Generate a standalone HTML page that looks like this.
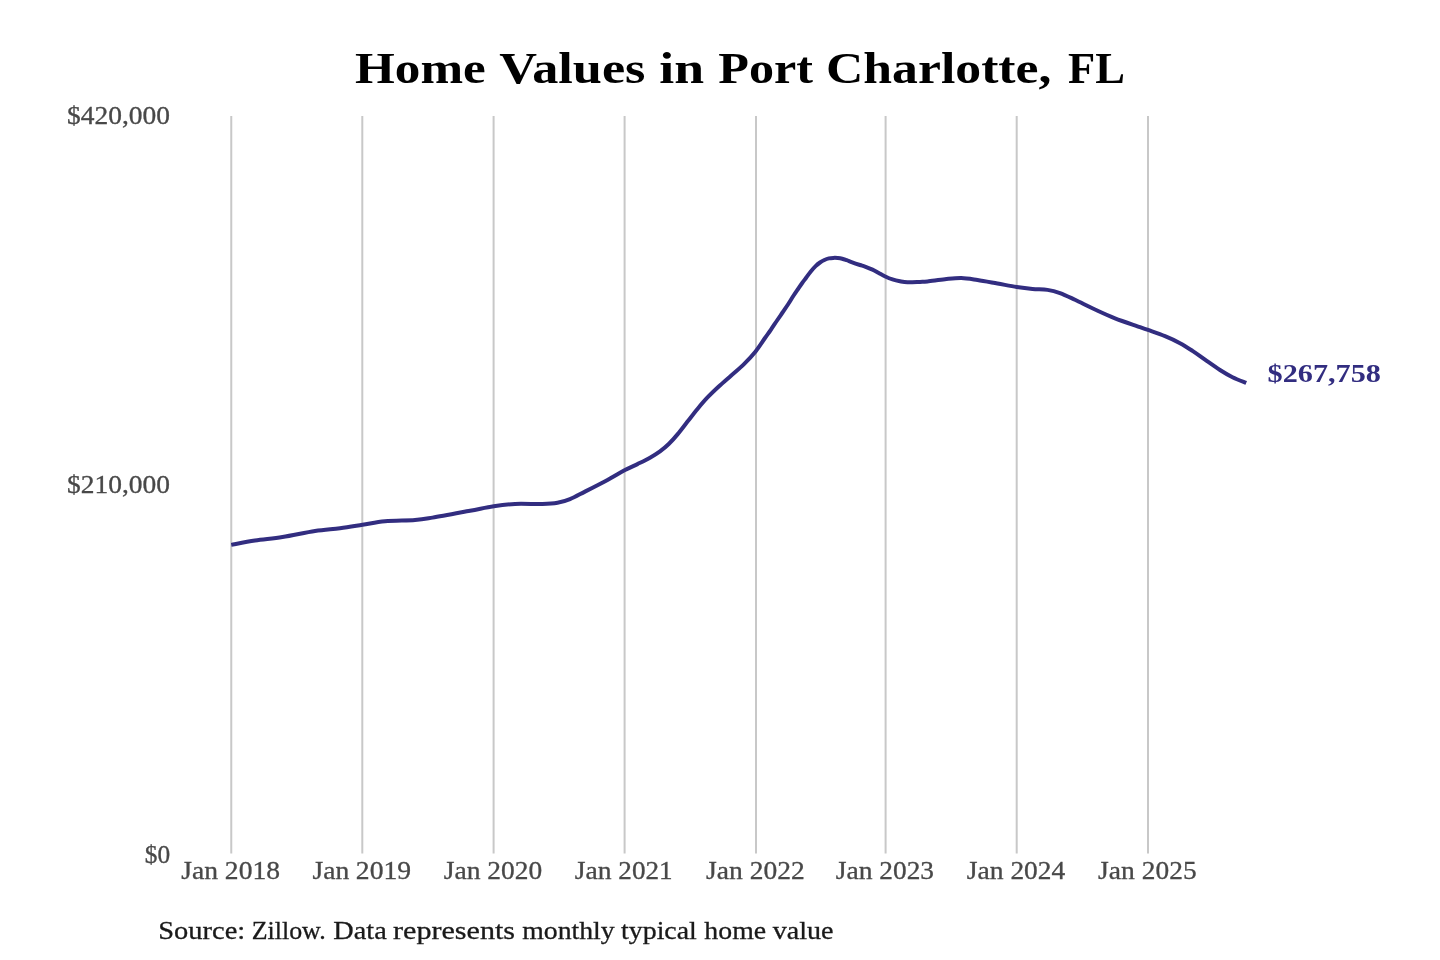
<!DOCTYPE html>
<html lang="en">
<head>
<meta charset="utf-8">
<title>Home Values in Port Charlotte, FL</title>
<style>
html,body{margin:0;padding:0;background:#fff;}
body{width:1440px;height:960px;overflow:hidden;font-family:"Liberation Serif", serif;}
svg{display:block;will-change:transform;}
text{font-family:"Liberation Serif", serif;white-space:pre;}
.title{font-weight:bold;font-size:44.8px;fill:#000000;}
.tick{font-size:24.4px;fill:#484848;stroke:#484848;stroke-width:0.3px;}
.src{font-size:25.0px;fill:#1a1a1a;stroke:#1a1a1a;stroke-width:0.3px;}
.val{font-weight:bold;font-size:24.4px;fill:#322d80;}
.grid line{stroke:#c8c8c8;stroke-width:2;}
</style>
</head>
<body>
<svg width="1440" height="960" viewBox="0 0 1440 960">
<rect width="1440" height="960" fill="#ffffff"/>
<text class="title" y="82.7"><tspan x="354.98" textLength="130.80" lengthAdjust="spacingAndGlyphs">Home</tspan> <tspan x="499.19" textLength="146.26" lengthAdjust="spacingAndGlyphs">Values</tspan> <tspan x="659.37" textLength="44.79" lengthAdjust="spacingAndGlyphs">in</tspan> <tspan x="718.36" textLength="94.68" lengthAdjust="spacingAndGlyphs">Port</tspan> <tspan x="826.01" textLength="225.45" lengthAdjust="spacingAndGlyphs">Charlotte,</tspan> <tspan x="1068.08" textLength="56.94" lengthAdjust="spacingAndGlyphs">FL</tspan></text>
<g class="grid">
<line x1="231.26" y1="116" x2="231.26" y2="853.6"/>
<line x1="362.30" y1="116" x2="362.30" y2="853.6"/>
<line x1="493.60" y1="116" x2="493.60" y2="853.6"/>
<line x1="624.60" y1="116" x2="624.60" y2="853.6"/>
<line x1="756.00" y1="116" x2="756.00" y2="853.6"/>
<line x1="885.60" y1="116" x2="885.60" y2="853.6"/>
<line x1="1016.70" y1="116" x2="1016.70" y2="853.6"/>
<line x1="1148.00" y1="116" x2="1148.00" y2="853.6"/>
</g>
<text class="tick" y="124.2"><tspan x="67.07" textLength="102.99" lengthAdjust="spacingAndGlyphs">$420,000</tspan></text>
<text class="tick" y="493.2"><tspan x="67.07" textLength="102.99" lengthAdjust="spacingAndGlyphs">$210,000</tspan></text>
<text class="tick" y="862.8"><tspan x="144.80" textLength="25.40" lengthAdjust="spacingAndGlyphs">$0</tspan></text>
<text class="tick" y="879.3"><tspan x="181.38" textLength="36.78" lengthAdjust="spacingAndGlyphs">Jan</tspan> <tspan x="224.88" textLength="55.13" lengthAdjust="spacingAndGlyphs">2018</tspan></text>
<text class="tick" y="879.3"><tspan x="312.42" textLength="36.78" lengthAdjust="spacingAndGlyphs">Jan</tspan> <tspan x="355.82" textLength="55.33" lengthAdjust="spacingAndGlyphs">2019</tspan></text>
<text class="tick" y="879.3"><tspan x="443.72" textLength="36.78" lengthAdjust="spacingAndGlyphs">Jan</tspan> <tspan x="487.36" textLength="54.82" lengthAdjust="spacingAndGlyphs">2020</tspan></text>
<text class="tick" y="879.3"><tspan x="574.72" textLength="36.78" lengthAdjust="spacingAndGlyphs">Jan</tspan> <tspan x="618.39" textLength="54.24" lengthAdjust="spacingAndGlyphs">2021</tspan></text>
<text class="tick" y="879.3"><tspan x="706.12" textLength="36.78" lengthAdjust="spacingAndGlyphs">Jan</tspan> <tspan x="749.83" textLength="54.99" lengthAdjust="spacingAndGlyphs">2022</tspan></text>
<text class="tick" y="879.3"><tspan x="835.72" textLength="36.78" lengthAdjust="spacingAndGlyphs">Jan</tspan> <tspan x="879.37" textLength="54.63" lengthAdjust="spacingAndGlyphs">2023</tspan></text>
<text class="tick" y="879.3"><tspan x="966.82" textLength="36.78" lengthAdjust="spacingAndGlyphs">Jan</tspan> <tspan x="1010.41" textLength="54.74" lengthAdjust="spacingAndGlyphs">2024</tspan></text>
<text class="tick" y="879.3"><tspan x="1098.12" textLength="36.78" lengthAdjust="spacingAndGlyphs">Jan</tspan> <tspan x="1141.84" textLength="54.74" lengthAdjust="spacingAndGlyphs">2025</tspan></text>
<path d="M231.25,544.90C235.21,544.17 246.46,541.81 255.00,540.50C263.54,539.19 272.50,538.62 282.50,537.04C292.50,535.46 305.42,532.50 315.00,531.02C324.58,529.55 332.08,529.23 340.00,528.20C347.92,527.16 355.00,525.95 362.50,524.79C370.00,523.62 376.25,521.99 385.00,521.19C393.75,520.40 407.08,520.59 415.00,520.00C422.92,519.41 423.33,519.19 432.50,517.65C441.67,516.11 459.79,512.65 470.00,510.75C480.21,508.85 486.25,507.39 493.75,506.25C501.25,505.11 506.88,504.28 515.00,503.90C523.12,503.53 535.42,504.18 542.50,504.00C549.58,503.82 552.92,503.62 557.50,502.80C562.08,501.98 565.42,500.97 570.00,499.10C574.58,497.23 578.75,494.79 585.00,491.60C591.25,488.41 600.83,483.53 607.50,479.95C614.17,476.37 620.00,472.74 625.00,470.10C630.00,467.46 633.33,466.17 637.50,464.10C641.67,462.03 646.25,459.82 650.00,457.70C653.75,455.58 656.88,453.68 660.00,451.40C663.12,449.12 665.83,446.88 668.75,444.04C671.67,441.19 674.38,438.09 677.50,434.35C680.62,430.61 684.17,425.84 687.50,421.61C690.83,417.38 694.17,412.97 697.50,408.95C700.83,404.93 703.96,401.22 707.50,397.48C711.04,393.75 714.79,390.19 718.75,386.52C722.71,382.86 727.08,379.17 731.25,375.47C735.42,371.78 739.69,368.37 743.75,364.36C747.81,360.35 752.06,355.81 755.60,351.42C759.14,347.02 762.47,341.60 765.00,338.00C767.53,334.40 768.85,332.63 770.80,329.80C772.75,326.97 774.75,323.88 776.70,321.00C778.65,318.12 780.57,315.33 782.50,312.50C784.43,309.67 786.50,306.75 788.30,304.00C790.10,301.25 791.63,298.57 793.30,296.00C794.97,293.43 796.82,290.77 798.30,288.60C799.78,286.43 800.90,284.80 802.20,283.00C803.50,281.20 804.70,279.68 806.10,277.80C807.50,275.92 809.02,273.65 810.60,271.70C812.18,269.75 814.03,267.63 815.60,266.10C817.17,264.57 818.53,263.52 820.00,262.50C821.47,261.48 822.92,260.68 824.40,260.00C825.88,259.32 827.42,258.75 828.90,258.40C830.38,258.05 831.82,257.97 833.30,257.90C834.78,257.83 836.32,257.87 837.80,258.00C839.28,258.13 840.72,258.33 842.20,258.70C843.68,259.07 845.03,259.60 846.70,260.20C848.37,260.80 849.98,261.50 852.20,262.30C854.42,263.10 857.87,264.28 860.00,265.00C862.13,265.72 862.92,265.84 865.00,266.62C867.08,267.39 870.21,268.58 872.50,269.65C874.79,270.73 876.62,271.92 878.75,273.07C880.88,274.21 882.96,275.45 885.25,276.51C887.54,277.57 890.04,278.63 892.50,279.42C894.96,280.21 897.50,280.78 900.00,281.25C902.50,281.72 904.17,282.14 907.50,282.25C910.83,282.36 916.67,282.02 920.00,281.90C923.33,281.77 923.33,281.94 927.50,281.50C931.67,281.06 939.38,279.83 945.00,279.25C950.62,278.67 955.83,277.88 961.25,278.00C966.67,278.12 971.46,279.08 977.50,280.00C983.54,280.92 990.96,282.34 997.50,283.50C1004.04,284.66 1010.92,286.05 1016.75,286.96C1022.58,287.86 1027.38,288.43 1032.50,288.91C1037.62,289.40 1042.92,289.18 1047.50,289.87C1052.08,290.57 1055.42,291.44 1060.00,293.09C1064.58,294.74 1069.17,297.06 1075.00,299.80C1080.83,302.54 1088.33,306.42 1095.00,309.50C1101.67,312.58 1107.50,315.37 1115.00,318.30C1122.50,321.23 1134.50,325.14 1140.00,327.09C1145.50,329.03 1143.83,328.44 1148.00,329.95C1152.17,331.46 1159.67,333.97 1165.00,336.17C1170.33,338.37 1175.42,340.69 1180.00,343.14C1184.58,345.59 1188.33,348.10 1192.50,350.86C1196.67,353.62 1200.42,356.51 1205.00,359.70C1209.58,362.89 1215.42,367.07 1220.00,370.00C1224.58,372.93 1228.12,375.10 1232.50,377.25C1236.88,379.40 1243.96,381.96 1246.25,382.90" fill="none" stroke="#322d80" stroke-width="4" stroke-linecap="butt" stroke-linejoin="round"/>
<text class="val" y="382.0"><tspan x="1267.63" textLength="113.24" lengthAdjust="spacingAndGlyphs">$267,758</tspan></text>
<text class="src" y="939.3"><tspan x="158.30" textLength="86.89" lengthAdjust="spacingAndGlyphs">Source:</tspan> <tspan x="251.69" textLength="73.94" lengthAdjust="spacingAndGlyphs">Zillow.</tspan> <tspan x="333.38" textLength="53.34" lengthAdjust="spacingAndGlyphs">Data</tspan> <tspan x="393.08" textLength="121.90" lengthAdjust="spacingAndGlyphs">represents</tspan> <tspan x="522.26" textLength="92.45" lengthAdjust="spacingAndGlyphs">monthly</tspan> <tspan x="621.05" textLength="75.78" lengthAdjust="spacingAndGlyphs">typical</tspan> <tspan x="704.37" textLength="61.74" lengthAdjust="spacingAndGlyphs">home</tspan> <tspan x="772.76" textLength="60.78" lengthAdjust="spacingAndGlyphs">value</tspan></text>
</svg>
</body>
</html>
